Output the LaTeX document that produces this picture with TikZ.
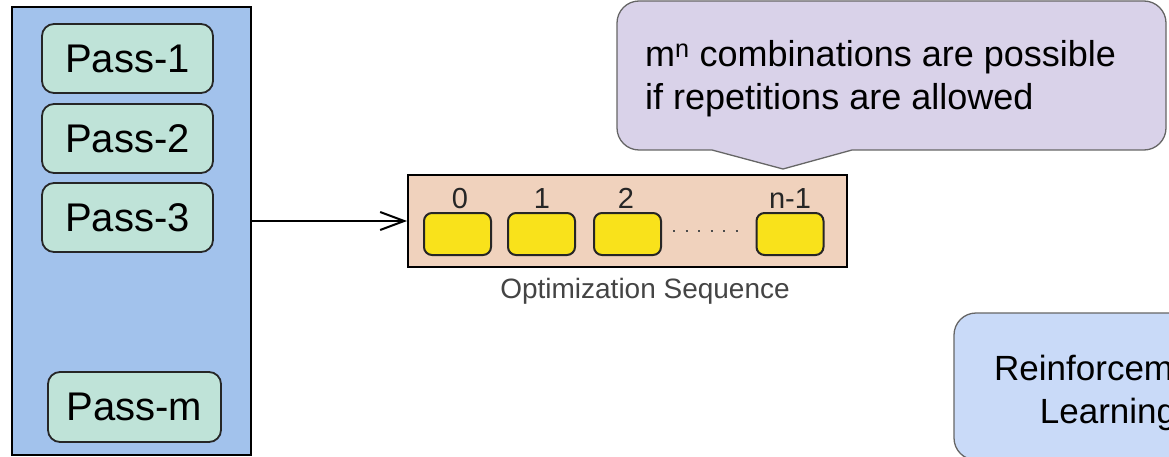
\documentclass[tikz,border=0pt]{standalone}
\usepackage{fontspec}
\setmainfont{Liberation Sans}
\usetikzlibrary{arrows.meta}

\definecolor{panelblue}{HTML}{A2C2EC}
\definecolor{passgreen}{HTML}{BFE3D8}
\definecolor{seqpeach}{HTML}{F0D2BD}
\definecolor{slotyellow}{HTML}{F9E21B}
\definecolor{notelilac}{HTML}{D9D2E9}
\definecolor{rlblue}{HTML}{C9DAF8}
\definecolor{edgegray}{HTML}{666666}
\definecolor{captiongray}{HTML}{444444}

\tikzset{
  panel/.style={draw=black, line width=1.8pt, fill=panelblue,
    minimum width=239pt, minimum height=448pt, inner sep=0pt},
  passbox/.style={draw=black!85, line width=1.8pt, fill=passgreen,
    rounded corners=12pt, minimum width=171pt, minimum height=69pt,
    inner sep=0pt, font=\fontsize{40pt}{48pt}\selectfont},
  seqbox/.style={draw=black, line width=2pt, fill=seqpeach,
    minimum width=439pt, minimum height=92pt, inner sep=0pt},
  slot/.style={draw=black!85, line width=2pt, fill=slotyellow,
    rounded corners=8pt, minimum width=67pt, minimum height=42pt, inner sep=0pt},
  idx/.style={anchor=base, inner sep=0pt, text=black!85,
    font=\fontsize{29pt}{34pt}\selectfont},
  caption/.style={anchor=base, inner sep=0pt, text=captiongray,
    font=\fontsize{28pt}{34pt}\selectfont},
  flow/.style={line width=2pt, -{Straight Barb[length=24pt, width=18pt, line width=2pt]}},
  ellipsis/.style={draw=black!70, line width=2pt, dash pattern=on 2pt off 10.5pt},
  noteshape/.style={draw=edgegray, line width=1.3pt, fill=notelilac},
  notetext/.style={anchor=base west, inner sep=0pt, align=left,
    font=\fontsize{36pt}{43pt}\selectfont},
  rlbox/.style={draw=edgegray, line width=1.3pt, fill=rlblue, rounded corners=22pt,
    minimum width=308pt, minimum height=147pt, inner sep=0pt},
  rltext/.style={anchor=base, inner sep=0pt, align=center,
    font=\fontsize{35pt}{43pt}\selectfont},
}

\begin{document}
\begin{tikzpicture}[x=1pt, y=-1pt]
  \useasboundingbox (0,0) rectangle (1169,457);
  \clip (0,0) rectangle (1169,457);

  % pool of passes
  \node[panel] (panel) at (131.5,231) {};
  \node[passbox] (p1) at (127.5,58.5) {Pass-1};
  \node[passbox] (p2) at (127.5,138.5) {Pass-2};
  \node[passbox] (p3) at (127.5,217.5) {Pass-3};
  \node[passbox, minimum width=173pt, minimum height=70pt] (pm) at (134.5,407) {Pass-m};

  % optimization sequence
  \node[seqbox] (seq) at (627.5,221) {};
  \node[slot] (s0) at (457.5,234) {};
  \node[slot] (s1) at (541.5,234) {};
  \node[slot] (s2) at (627.5,234) {};
  \node[slot] (sn) at (790,234) {};
  \node[idx] (l0) at (460,208) {0};
  \node[idx] (l1) at (542,208) {1};
  \node[idx] (l2) at (626,208) {2};
  \node[idx] (ln) at (790,208) {n-1};
  \draw[ellipsis, shorten <=11pt, shorten >=9pt]
    ([yshift=3pt]s2.east) -- ([yshift=3pt]sn.west);
  \node[caption] (cap) at (645,298) {Optimization Sequence};

  \draw[flow] (panel.east |- seq.west) -- (seq.west);

  % speech bubble
  \draw[noteshape] (712,150) -- (783,169) -- (852,150) -- (1144,150)
    .. controls (1156.1,150) and (1166,140.1) .. (1166,128) -- (1166,23)
    .. controls (1166,10.9) and (1156.1,1) .. (1144,1) -- (639,1)
    .. controls (626.9,1) and (617,10.9) .. (617,23) -- (617,128)
    .. controls (617,140.1) and (626.9,150) .. (639,150) -- cycle;
  % base anchor of a multi-line node sits on its last line
  \node[notetext] (note) at (645,110)
    {m\textsuperscript{n} combinations are possible\\if repetitions are allowed};

  % learning agent
  \node[rlbox] (rl) at (1108,386.5) {};
  \node[rltext] (rlt) at (1108,423) {Reinforcement\\Learning};
\end{tikzpicture}
\end{document}
